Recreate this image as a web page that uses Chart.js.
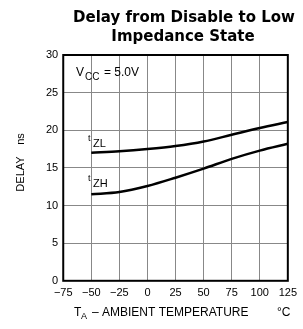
<!DOCTYPE html>
<html>
<head>
<meta charset="utf-8">
<script src="https://cdn.jsdelivr.net/npm/chart.js@4/dist/chart.umd.min.js"></script>
<style>
  html, body { margin: 0; padding: 0; background: #fff; }
  #wrap { width: 303px; height: 329px; position: relative; }
</style>
</head>
<body>
<div id="wrap"><canvas id="chart"></canvas></div>
<script>
// temperature points (°C) and delay readings (ns)
const temps = [-50, -25, 0, 25, 50, 75, 100, 125];
const tZL = [17.0, 17.2, 17.5, 17.9, 18.5, 19.4, 20.3, 21.1];
const tZH = [11.5, 11.8, 12.6, 13.7, 14.9, 16.2, 17.3, 18.2];
const xTicks = [-75, -50, -25, 0, 25, 50, 75, 100, 125];
const yTicks = [0, 5, 10, 15, 20, 25, 30];

const FONT = '"Liberation Sans", Arial, sans-serif';

// draws the frame, title and the little annotations
const decor = {
  id: 'decor',
  afterDraw(chart) {
    const ctx = chart.ctx;
    const a = chart.chartArea;
    ctx.save();
    ctx.strokeStyle = '#000';
    ctx.lineWidth = 2;
    ctx.strokeRect(a.left, a.top, a.right - a.left, a.bottom - a.top);

    ctx.fillStyle = '#000';
    ctx.textBaseline = 'alphabetic';
    ctx.textAlign = 'center';
    ctx.font = 'bold 15px "DejaVu Sans", sans-serif';
    ctx.fillText('Delay from Disable to Low', 184, 22);
    ctx.fillText('Impedance State', 183, 41);

    ctx.textAlign = 'left';
    // VCC = 5.0V
    ctx.font = '12px ' + FONT;
    ctx.fillText('V', 76, 76);
    ctx.font = '10px ' + FONT;
    ctx.fillText('CC', 85, 80);
    ctx.font = '12px ' + FONT;
    ctx.fillText('= 5.0V', 104, 76);

    // curve labels
    const lab = (sub, px, py) => {
      ctx.font = '9px ' + FONT;
      ctx.fillText('t', px, py - 6);
      ctx.font = '11px ' + FONT;
      ctx.fillText(sub, px + 5, py);
    };
    lab('ZL', 88, 147);
    lab('ZH', 88, 187);

    // x axis title
    const ty = 316;
    ctx.font = '12px ' + FONT;
    ctx.fillText('T', 74, ty);
    ctx.font = '9px ' + FONT;
    ctx.fillText('A', 81, ty + 3);
    ctx.font = '12px ' + FONT;
    ctx.fillText('\u2013 AMBIENT TEMPERATURE', 92, ty);
    ctx.fillText('\u00B0C', 277, ty);

    // y axis title
    ctx.save();
    ctx.translate(24, 0);
    ctx.rotate(-Math.PI / 2);
    ctx.textAlign = 'center';
    ctx.font = '11px ' + FONT;
    ctx.fillText('DELAY', -174, 0);
    ctx.fillText('ns', -139, 0);
    ctx.restore();
    ctx.restore();
  }
};

const mk = (label, vals) => ({
  label,
  data: temps.map((t, i) => ({ x: t, y: vals[i] })),
  borderColor: '#000',
  borderWidth: 2.5,
  pointRadius: 0,
  cubicInterpolationMode: 'monotone',
  fill: false
});

new Chart(document.getElementById('chart'), {
  type: 'line',
  data: { datasets: [mk('tZL', tZL), mk('tZH', tZH)] },
  options: {
    responsive: true,
    maintainAspectRatio: false,
    animation: false,
    layout: { padding: { top: 55, right: 9, bottom: 23, left: 41 } },
    plugins: { legend: { display: false }, tooltip: { enabled: false } },
    scales: {
      x: {
        type: 'linear',
        min: -75, max: 125,
        afterBuildTicks: s => { s.ticks = xTicks.map(v => ({ value: v })); },
        ticks: {
          color: '#000',
          font: { size: 11, family: FONT },
          padding: 6,
          maxRotation: 0,
          autoSkip: false,
          callback: v => (v < 0 ? '\u2212' + Math.abs(v) : String(v))
        },
        grid: { color: '#888', lineWidth: 1, drawTicks: false },
        border: { display: false }
      },
      y: {
        min: 0, max: 30,
        afterBuildTicks: s => { s.ticks = yTicks.map(v => ({ value: v })); },
        ticks: {
          color: '#000',
          font: { size: 11, family: FONT },
          padding: 5
        },
        grid: { color: '#888', lineWidth: 1, drawTicks: false },
        border: { display: false }
      }
    }
  },
  plugins: [decor]
});
</script>
</body>
</html>
